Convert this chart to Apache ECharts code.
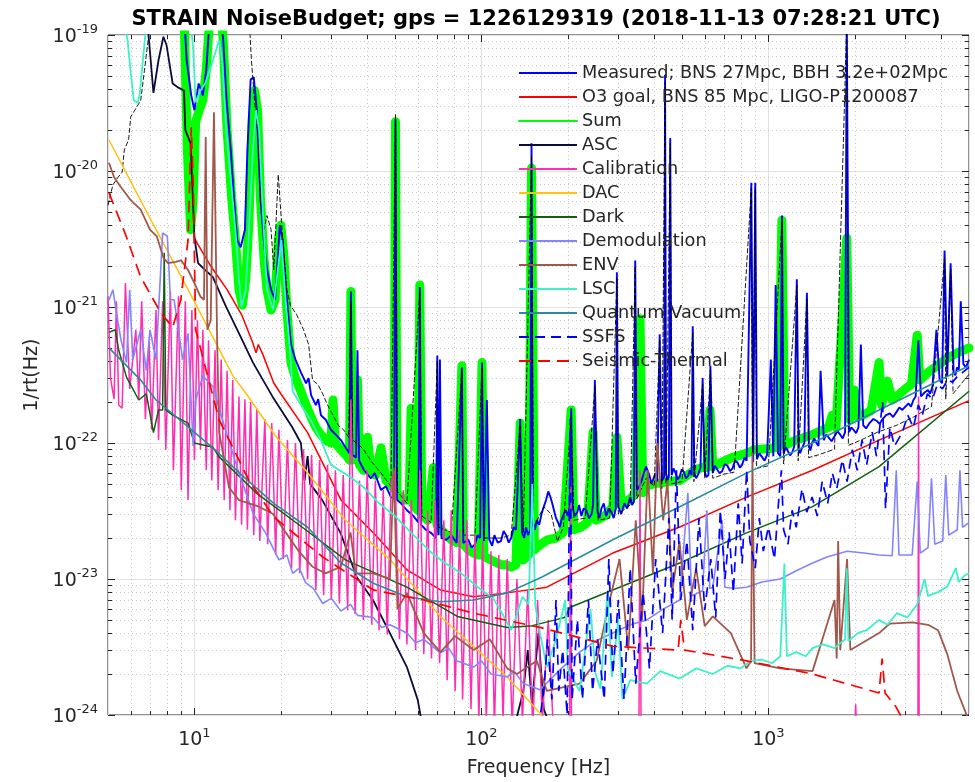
<!DOCTYPE html>
<html><head><meta charset="utf-8">
<script src="https://cdn.jsdelivr.net/npm/echarts@6/dist/echarts.min.js"></script>
<style>html,body{margin:0;padding:0;background:#fff}#c{width:975px;height:782px}#err{position:absolute;left:120px;top:420px;font:12px monospace;color:#c00;white-space:pre-wrap;width:800px;margin:0}</style>
</head><body><div id="c"></div><pre id="err"></pre>
<script>
window.onerror=function(m,s,l,c,e){document.getElementById('err').textContent += 'ERR: '+m+' @'+l+':'+c+'\n';};
const titleText = 'STRAIN NoiseBudget; gps = 1226129319 (2018-11-13 07:28:21 UTC)';
const legendNames = ['Measured; BNS 27Mpc, BBH 3.2e+02Mpc','O3 goal, BNS 85 Mpc, LIGO-P1200087','Sum','ASC','Calibration','DAC','Dark','Demodulation','ENV','LSC','Quantum Vacuum','SSFS','Seismic-Thermal'];
const xMajorTicks = [10,100,1000];
const xMinorTicks = [6,7,8,9,20,30,40,50,60,70,80,90,200,300,400,500,600,700,800,900,2000,3000,4000];
const yMajorTicks = [1e-24,1e-23,1e-22,1e-21,1e-20,1e-19];
const yMinorTicks = [2e-24,3e-24,4e-24,5e-24,6e-24,7e-24,8e-24,9e-24,2e-23,3e-23,4e-23,5e-23,6e-23,7e-23,8e-23,9e-23,2e-22,3e-22,4e-22,5e-22,6e-22,7e-22,8e-22,9e-22,2e-21,3e-21,4e-21,5e-21,6e-21,7e-21,8e-21,9e-21,2e-20,3e-20,4e-20,5e-20,6e-20,7e-20,8e-20,9e-20];

const measured = [[9.2,1.5e-19],[9.4,6.5e-20],[9.75,3.6e-20],[10.0,2.8e-20],[10.35,4.4e-20],[10.7,3.6e-20],[11.0,5.5e-20],[11.2,1.0e-19],[11.35,1.3e-19],[12.4,1.3e-19],[12.6,9.2e-20],[12.95,3.3e-20],[13.4,1.4e-20],[13.75,6.1e-21],[14.1,3.1e-21],[14.5,2.75e-21],[15.0,3.7e-21],[15.3,1.4e-20],[15.7,4.7e-20],[16.1,4.9e-20],[16.5,2.8e-20],[17.0,6.1e-21],[17.5,2.9e-21],[17.9,1.9e-21],[18.5,1.34e-21],[19.1,1.13e-21],[19.55,2.4e-21],[19.85,4.0e-21],[20.3,3.1e-21],[20.8,1.45e-21],[21.7,5.3e-22],[22.5,4.1e-22],[23.5,3.3e-22],[24.5,2.75e-22],[25.0,3.0e-22],[25.5,2.25e-22],[26.5,1.9e-22],[27.0,2.1e-22],[27.6,1.6e-22],[28.7,1.48e-22],[29.9,1.25e-22],[31.1,1.15e-22],[32.4,1.05e-22],[33.7,9.2e-23],[34.7,8.4e-23],[35.1,1.3e-21],[35.5,8.2e-23],[36.6,7.8e-23],[37.0,4.8e-22],[37.5,7.4e-23],[39.0,6.3e-23],[41.2,5.5e-23],[42.5,6.0e-23],[44.7,4.5e-23],[46.5,4.8e-23],[48.4,4.0e-23],[49.6,3.9e-23],[50.2,2.4e-20],[50.8,3.8e-23],[52.5,3.6e-23],[55.0,3.2e-23],[58.0,2.9e-23],[60.3,2.6e-23],[61.0,1.4e-21],[61.7,2.5e-23],[64.0,2.3e-23],[66.8,2.18e-23],[69.5,2.0e-23],[70.2,4.4e-22],[70.8,2.1e-23],[71.7,4.1e-22],[72.6,2.0e-23],[75.5,1.94e-23],[78.5,2.1e-23],[82.0,1.84e-23],[85.5,3.6e-22],[86.5,1.84e-23],[90.0,1.95e-23],[92.5,1.7e-23],[95.0,1.8e-23],[97.0,2.1e-23],[99.0,2.0e-23],[100.5,3.9e-22],[102.0,1.9e-23],[104.5,2.07e-22],[106.5,1.95e-23],[109.0,1.75e-23],[111.0,2.1e-23],[114.0,1.85e-23],[117.0,1.9e-23],[119.5,2.25e-23],[122.0,2.1e-23],[124.5,1.85e-23],[127.0,2.0e-23],[129.5,2.4e-23],[132.0,2.3e-23],[136.5,1.5e-22],[138.5,2.2e-23],[141.0,2.0e-23],[143.0,2.4e-23],[145.5,2.1e-23],[148.0,2.3e-23],[149.5,1.6e-20],[151.0,2.5e-23],[153.5,2.3e-23],[156.0,2.7e-23],[159.0,2.5e-23],[162.0,3.0e-23],[165.0,3.4e-23],[168.0,3.8e-23],[171.0,4.4e-23],[174.0,4.0e-23],[176.5,3.6e-23],[179.0,3.2e-23],[182.0,2.8e-23],[185.0,2.6e-23],[187.5,2.4e-23],[190.0,2.7e-23],[193.5,3.0e-23],[197.0,3.2e-23],[200.0,2.9e-23],[203.0,3.4e-23],[205.5,1.8e-22],[208.0,3.3e-23],[212.0,2.9e-23],[216.0,3.1e-23],[219.0,3.5e-23],[223.0,2.9e-23],[227.0,3.3e-23],[232.0,3.2e-23],[237.0,2.8e-23],[242.0,3.0e-23],[245.0,3.5e-23],[248.5,2.9e-22],[254.0,3.1e-23],[258.0,2.8e-23],[262.0,3.3e-23],[267.0,3.6e-23],[272.0,2.9e-23],[278.0,3.3e-23],[284.0,3.1e-23],[289.0,2.8e-23],[294.0,3.3e-23],[296.5,1.8e-21],[300.0,3.4e-23],[307.0,3.0e-23],[315.0,3.6e-23],[322.0,3.3e-23],[330.0,4.0e-23],[335.0,3.5e-23],[340.0,3.7e-23],[343.5,2.2e-21],[348.0,4.5e-23],[355.0,4.8e-23],[362.0,5.3e-23],[368.0,6.0e-23],[375.0,6.7e-23],[380.0,6.2e-23],[385.0,5.8e-23],[391.0,5.0e-23],[398.0,5.5e-23],[404.0,6.0e-23],[410.0,5.2e-23],[418.0,6.3e-22],[426.0,5.3e-23],[433.0,5.6e-23],[436.5,5.1e-20],[440.0,6.0e-23],[445.0,5.3e-23],[450.0,5.7e-23],[455.0,1.75e-20],[460.0,5.8e-23],[467.0,6.5e-23],[475.0,6.0e-23],[482.0,5.4e-23],[490.0,5.6e-23],[499.0,6.4e-23],[508.0,6.1e-23],[516.0,5.5e-23],[525.0,5.7e-23],[532.0,6.3e-23],[540.0,5.8e-23],[545.0,7.2e-22],[552.0,6.0e-23],[560.0,5.5e-23],[570.0,5.9e-23],[580.0,6.6e-23],[590.0,3.0e-22],[600.0,6.2e-23],[608.0,5.6e-23],[618.0,5.8e-23],[628.0,3.7e-22],[640.0,6.0e-23],[650.0,6.8e-23],[660.0,6.5e-23],[675.0,6.0e-23],[690.0,6.2e-23],[705.0,7.0e-23],[720.0,6.8e-23],[735.0,6.2e-23],[750.0,6.5e-23],[765.0,7.4e-23],[780.0,7.2e-23],[795.0,6.6e-23],[810.0,6.9e-23],[825.0,7.8e-23],[840.0,7.4e-23],[872.0,8.2e-21],[885.0,7.2e-23],[900.0,8.2e-21],[912.0,7.6e-23],[930.0,8.4e-23],[950.0,7.9e-23],[970.0,7.4e-23],[990.0,8.2e-23],[1020.0,4.1e-22],[1040.0,8.0e-23],[1060.0,1.45e-21],[1080.0,8.4e-23],[1100.0,8.0e-23],[1115.0,4.7e-21],[1130.0,8.4e-23],[1150.0,9.3e-23],[1170.0,8.7e-23],[1190.0,8.1e-23],[1210.0,8.5e-23],[1230.0,9.4e-23],[1256.0,1.6e-21],[1275.0,9.0e-23],[1290.0,8.4e-23],[1310.0,9.2e-23],[1335.0,1.0e-22],[1362.0,1.27e-21],[1385.0,9.4e-23],[1400.0,8.8e-23],[1420.0,1.0e-22],[1445.0,1.08e-22],[1470.0,1.0e-22],[1495.0,9.5e-23],[1520.0,3.4e-22],[1560.0,1.05e-22],[1590.0,1.15e-22],[1620.0,1.1e-22],[1660.0,1.03e-22],[1700.0,1.12e-22],[1740.0,1.22e-22],[1780.0,1.15e-22],[1815.0,1.08e-22],[1850.0,1.2e-22],[1875.0,1.5e-19],[1910.0,1.2e-22],[1945.0,1.3e-22],[1980.0,1.25e-22],[2020.0,1.18e-22],[2060.0,1.3e-22],[2100.0,5.3e-22],[2140.0,1.35e-22],[2190.0,1.28e-22],[2250.0,1.4e-22],[2320.0,1.5e-22],[2390.0,1.45e-22],[2440.0,1.38e-22],[2500.0,1.5e-22],[2570.0,1.6e-22],[2650.0,1.65e-22],[2720.0,1.55e-22],[2800.0,1.7e-22],[2860.0,1.82e-22],[2930.0,1.75e-22],[3000.0,1.85e-22],[3080.0,1.95e-22],[3140.0,1.85e-22],[3200.0,2.07e-22],[3260.0,2.2e-22],[3330.0,5.7e-22],[3400.0,2.2e-22],[3500.0,2.35e-22],[3600.0,2.45e-22],[3660.0,2.3e-22],[3730.0,2.6e-22],[3850.0,6.8e-22],[3950.0,2.9e-22],[4030.0,2.75e-22],[4110.0,2.6e-21],[4200.0,3.1e-22],[4315.0,2.1e-21],[4420.0,3.3e-22],[4480.0,3.15e-22],[4550.0,3.6e-22],[4610.0,3.45e-22],[4680.0,1.1e-21],[4780.0,3.8e-22],[4880.0,3.6e-22],[5000.0,4.1e-22]];

const o3goal = [[10.0,3.2e-21],[11.4,2.0e-21],[13.0,1.34e-21],[14.6,8.8e-22],[15.9,5.6e-22],[16.4,4.6e-22],[16.7,5.3e-22],[17.3,4.5e-22],[18.9,2.76e-22],[20.0,2.3e-22],[24.8,1.19e-22],[32.4,3.81e-23],[42.1,2.18e-23],[55.2,1.16e-23],[72.0,8.3e-24],[93.8,7.4e-24],[123.0,7.9e-24],[169.0,8.7e-24],[287.0,1.55e-23],[491.0,2.41e-23],[839.0,4.0e-23],[1425.0,6.3e-23],[2430.0,1.05e-22],[5000.0,2.05e-22]];

const sumNoise = [[9.2,1.5e-19],[9.45,1.43e-20],[9.7,3.7e-21],[9.9,6.1e-21],[10.1,2.3e-20],[10.4,2.8e-20],[10.7,3.3e-20],[11.0,5.5e-20],[11.2,1.0e-19],[11.35,1.3e-19],[12.4,1.3e-19],[12.6,9.2e-20],[13.0,2.0e-20],[13.5,6.1e-21],[13.9,3.1e-21],[14.3,1.34e-21],[14.7,1.03e-21],[15.1,1.6e-21],[15.5,4.35e-21],[15.9,2.4e-20],[16.2,3.9e-20],[16.6,2.8e-20],[17.0,6.1e-21],[17.5,2.2e-21],[17.9,1.34e-21],[18.5,9.5e-22],[19.1,1.13e-21],[19.6,3.1e-21],[20.0,4.0e-21],[20.5,2.4e-21],[21.0,9.5e-22],[21.7,3.9e-22],[22.5,3.0e-22],[23.5,2.4e-22],[24.5,1.9e-22],[25.5,1.55e-22],[26.5,1.3e-22],[27.6,1.15e-22],[28.7,1.05e-22],[29.9,1.0e-22],[30.4,2.07e-22],[31.0,1.0e-22],[32.4,8.9e-23],[33.7,8.2e-23],[34.7,7.5e-23],[35.1,1.3e-21],[35.5,7.5e-23],[37.0,2.9e-22],[37.6,6.9e-23],[38.8,6.3e-23],[40.1,1.1e-22],[41.2,6.3e-23],[42.7,5.8e-23],[44.7,9.2e-23],[46.5,5.3e-23],[48.4,4.9e-23],[49.6,4.6e-23],[50.2,2.3e-20],[50.8,4.3e-23],[53.5,3.8e-23],[56.0,3.8e-23],[56.9,1.8e-22],[58.0,3.5e-23],[60.0,3.2e-23],[61.0,1.45e-21],[62.0,3.0e-23],[65.0,2.7e-23],[68.0,6.6e-23],[70.0,2.5e-23],[72.4,2.3e-23],[75.5,2.1e-23],[78.5,1.94e-23],[82.0,1.85e-23],[85.5,3.7e-22],[86.5,1.8e-23],[90.0,1.64e-23],[94.0,1.55e-23],[97.5,1.5e-23],[100.5,3.9e-22],[102.0,1.47e-23],[108.0,1.38e-23],[112.0,1.33e-23],[117.0,1.27e-23],[122.0,1.27e-23],[127.0,1.22e-23],[132.0,1.27e-23],[136.5,1.4e-22],[140.0,1.38e-23],[146.0,1.5e-23],[149.5,1.05e-20],[153.0,1.64e-23],[160.0,1.78e-23],[170.0,1.94e-23],[182.0,2.0e-23],[193.0,2.2e-23],[205.5,1.75e-22],[210.0,2.3e-23],[222.0,2.4e-23],[234.0,2.6e-23],[245.0,1.2e-22],[251.0,2.7e-23],[269.0,2.9e-23],[287.0,3.4e-23],[296.5,1.1e-22],[307.0,3.5e-23],[326.0,3.8e-23],[344.0,4.2e-23],[357.0,8.2e-22],[365.0,4.3e-23],[375.0,4.8e-23],[397.0,5.0e-23],[425.0,5.1e-23],[450.0,5.2e-23],[491.0,5.3e-23],[523.0,5.8e-23],[552.0,6.3e-23],[588.0,6.6e-23],[610.0,6.6e-23],[626.0,1.75e-22],[640.0,6.7e-23],[687.0,7.2e-23],[745.0,7.8e-23],[839.0,8.4e-23],[893.0,8.9e-23],[1012.0,9.1e-23],[1080.0,9.3e-23],[1114.0,4.35e-21],[1140.0,9.6e-23],[1190.0,1.0e-22],[1250.0,1.05e-22],[1340.0,1.1e-22],[1422.0,1.15e-22],[1620.0,1.3e-22],[1668.0,1.6e-22],[1720.0,1.3e-22],[1875.0,3.2e-21],[1920.0,1.48e-22],[1990.0,2.45e-22],[2050.0,1.55e-22],[2130.0,1.6e-22],[2280.0,1.73e-22],[2430.0,3.9e-22],[2480.0,1.9e-22],[2600.0,2.85e-22],[2700.0,2.07e-22],[2830.0,2.25e-22],[3000.0,2.5e-22],[3150.0,2.7e-22],[3300.0,6.2e-22],[3370.0,2.9e-22],[3600.0,3.3e-22],[3880.0,3.7e-22],[4200.0,4.2e-22],[4550.0,4.6e-22],[5000.0,5.0e-22]];

const reference = [[5.0,5.6e-21],[5.2,7.9e-21],[5.4,8.9e-21],[5.6,9.8e-21],[5.7,1.43e-20],[5.9,1.7e-20],[6.0,2.5e-20],[6.2,2.8e-20],[6.5,3.3e-20],[6.7,5.5e-20],[6.9,9.2e-20],[7.0,1.4e-19],[15.5,1.4e-19],[15.8,6.5e-20],[16.2,3.3e-20],[16.7,1.7e-20],[17.0,6.1e-21],[17.5,3.7e-21],[17.9,4.7e-21],[18.5,3.7e-21],[18.9,1.87e-21],[19.6,9.4e-21],[20.2,3.7e-21],[21.0,1.34e-21],[21.6,1.03e-21],[22.7,8.8e-22],[24.0,6.8e-22],[25.0,5.3e-22],[25.8,2.9e-22],[26.9,2.7e-22],[28.0,2.3e-22],[29.1,1.9e-22],[30.4,1.6e-22],[31.7,1.35e-22],[33.1,1.25e-22],[34.5,1.1e-22],[35.1,1.1e-21],[35.6,1.05e-22],[37.0,9.9e-23],[38.8,9.0e-23],[41.2,7.4e-23],[44.7,6.0e-23],[48.4,4.8e-23],[50.2,2.6e-20],[51.0,4.4e-23],[55.0,3.6e-23],[61.0,1.3e-21],[62.0,2.9e-23],[66.8,2.6e-23],[70.2,4.0e-22],[71.0,2.4e-23],[78.5,2.2e-23],[85.5,3.4e-22],[86.5,2.1e-23],[95.0,2.1e-23],[100.5,3.6e-22],[102.0,2.0e-23],[117.0,2.0e-23],[127.0,2.1e-23],[136.5,1.35e-22],[140.0,2.2e-23],[149.5,1.3e-20],[152.0,2.4e-23],[165.0,3.4e-23],[175.0,3.0e-23],[184.0,1.9e-23],[193.0,2.4e-23],[205.5,1.6e-22],[210.0,2.7e-23],[230.0,2.8e-23],[248.5,2.6e-22],[255.0,2.7e-23],[280.0,2.8e-23],[296.5,1.65e-21],[300.0,3.0e-23],[330.0,3.5e-23],[343.5,2.0e-21],[348.0,3.9e-23],[375.0,5.5e-23],[400.0,4.8e-23],[418.0,5.8e-22],[425.0,4.6e-23],[436.5,4.5e-20],[440.0,5.0e-23],[455.0,1.6e-20],[460.0,5.0e-23],[500.0,5.2e-23],[545.0,6.5e-22],[550.0,5.2e-23],[590.0,2.7e-22],[600.0,5.5e-23],[628.0,3.4e-22],[640.0,5.5e-23],[700.0,5.9e-23],[760.0,6.1e-23],[872.0,7.5e-21],[880.0,6.3e-23],[900.0,7.5e-21],[910.0,6.5e-23],[1000.0,6.8e-23],[1115.0,4.3e-21],[1130.0,7.0e-23],[1256.0,1.45e-21],[1270.0,7.4e-23],[1362.0,1.15e-21],[1380.0,7.8e-23],[1500.0,8.2e-23],[1700.0,9.0e-23],[1875.0,1.2e-19],[1900.0,9.6e-23],[2100.0,1.05e-22],[2400.0,1.2e-22],[2800.0,1.35e-22],[3200.0,1.55e-22],[3700.0,1.85e-22],[4110.0,2.3e-21],[4150.0,2.1e-22],[4315.0,1.9e-21],[4400.0,2.3e-22],[5000.0,3.2e-22]];

const asc = [[6.85,1.3e-19],[7.2,3.75e-20],[7.5,6.55e-20],[7.8,9.7e-20],[8.0,8.4e-20],[8.4,4.4e-20],[8.8,4.1e-20],[9.2,3.9e-20],[9.3,2.0e-20],[9.7,1.6e-20],[10.0,3.3e-21],[10.3,2.1e-21],[10.9,1.87e-21],[11.6,1.66e-21],[12.9,1.0e-21],[14.4,6.2e-22],[16.0,3.9e-22],[18.7,2.2e-22],[21.9,1.31e-22],[23.5,1.0e-22],[24.2,5.3e-23],[24.8,8.0e-23],[25.3,5.0e-23],[27.9,3.8e-23],[32.3,2.18e-23],[36.8,1.03e-23],[41.9,7.0e-24],[48.0,4.0e-24],[55.0,2.25e-24],[60.0,1.29e-24],[62.5,8e-25],[130.0,8e-25],[140.0,1.5e-24],[145.0,3.0e-24],[150.0,1.2e-24],[158.0,4.0e-24],[165.0,1.1e-24],[175.0,8e-25]];

const calibration = [[5.0,1.2e-21],[5.1,3.0e-22],[5.25,2.1e-22],[5.35,1.1e-21],[5.45,1.9e-22],[5.6,1.8e-22],[5.75,1.5e-21],[5.95,2.5e-22],[6.1,4.1e-22],[6.25,6.8e-22],[6.4,2.1e-22],[6.55,1.1e-21],[6.75,1.5e-22],[6.95,5.7e-22],[7.1,1.25e-22],[7.35,9.5e-22],[7.5,1.05e-22],[7.75,1.1e-21],[7.95,8.9e-23],[8.25,1.3e-21],[8.45,6.3e-23],[8.8,1.2e-21],[9.0,4.5e-23],[9.3,1.1e-21],[9.5,3.8e-23],[9.8,9.5e-22],[10.0,7.5e-23],[10.25,8.0e-22],[10.5,8.9e-23],[10.7,6.8e-22],[11.0,6.3e-23],[11.2,5.7e-22],[11.5,5.3e-23],[11.8,4.8e-22],[12.1,4.5e-23],[12.4,4.1e-22],[12.7,3.8e-23],[13.0,3.4e-22],[13.3,3.2e-23],[13.6,2.9e-22],[13.9,2.7e-23],[14.3,2.2e-22],[14.6,2.5e-23],[15.0,2.1e-22],[15.3,2.3e-23],[15.7,2.0e-22],[16.1,2.1e-23],[16.5,1.8e-22],[16.9,1.9e-23],[17.6,1.5e-22],[18.0,1.8e-23],[18.6,1.4e-22],[19.2,1.5e-23],[19.7,1.25e-22],[20.4,1.4e-23],[21.1,1.05e-22],[21.8,1.2e-23],[22.5,1.0e-22],[23.3,1.1e-23],[24.0,9.0e-23],[24.8,1.0e-23],[25.6,8.2e-23],[26.5,8.3e-24],[27.3,7.5e-23],[28.2,7.6e-24],[29.1,6.9e-23],[30.0,7.0e-24],[31.0,6.3e-23],[32.0,6.6e-24],[33.0,5.8e-23],[34.2,5.9e-24],[35.1,2.1e-22],[36.3,5.5e-24],[37.6,5.3e-23],[38.8,5.0e-24],[40.0,6.3e-23],[41.5,4.6e-24],[42.7,5.3e-23],[44.0,4.2e-24],[45.5,4.5e-23],[47.0,3.9e-24],[48.5,5.3e-23],[50.0,6.3e-23],[51.8,3.6e-24],[53.5,4.5e-23],[55.0,3.3e-24],[57.0,3.8e-23],[59.0,3.0e-24],[61.0,6.3e-23],[63.0,2.8e-24],[65.0,3.2e-23],[67.0,2.6e-24],[69.0,3.8e-23],[71.5,2.4e-24],[74.0,2.7e-23],[76.0,1.8e-24],[78.5,3.2e-23],[81.0,1.5e-24],[84.0,2.3e-23],[86.0,1.3e-24],[89.0,2.7e-23],[92.0,1.1e-24],[95.0,2.1e-23],[98.0,9e-25],[101.0,1.9e-23],[104.0,9e-25],[108.0,1.6e-23],[111.0,8e-25],[115.0,1.5e-23],[119.0,9e-25],[123.0,1.4e-23],[128.0,8e-25],[133.0,1.0e-23],[139.0,9e-25],[145.0,8.3e-24],[151.0,8e-25],[157.0,7.0e-24],[163.0,9e-25],[171.0,5.0e-24],[178.0,8e-25],[203.0,8e-25],[204.5,5.3e-23],[206.0,8e-25],[354.0,8e-25],[357.0,6.3e-23],[360.0,8e-25],[2000.0,8e-25],[2014.0,1.2e-24],[2028.0,8e-25],[3320.0,8e-25],[3336.0,2.2e-22],[3352.0,8e-25],[5000.0,8e-25]];

const dac = [[5.04,1.69e-20],[7.0,4.5e-21],[9.6,1.29e-21],[13.7,3.05e-22],[15.1,2.33e-22],[19.2,1.12e-22],[24.4,6.3e-23],[33.6,2.7e-23],[48.2,1.38e-23],[72.0,5.3e-24],[123.0,1.9e-24],[160.0,1.03e-24],[175.0,8e-25]];

const dark = [[5.04,6.5e-22],[5.3,6.8e-22],[5.45,4.8e-22],[5.8,3.05e-22],[6.4,2.07e-22],[6.8,2.3e-22],[7.2,1.19e-22],[7.5,1.75e-22],[7.75,1.75e-22],[7.85,2.5e-21],[7.95,1.75e-22],[8.4,1.6e-22],[9.5,1.4e-22],[10.0,1.0e-22],[11.6,9.3e-23],[12.2,7.9e-23],[16.4,4.3e-23],[24.4,2.3e-23],[33.6,1.38e-23],[55.0,8.7e-24],[82.5,5.3e-24],[123.0,4.4e-24],[148.0,4.5e-24],[181.0,5.0e-24],[195.0,5.2e-24],[204.0,6.2e-24],[287.0,8.3e-24],[491.0,1.31e-23],[839.0,2.18e-23],[1425.0,3.4e-23],[2430.0,6.7e-23],[5000.0,2.4e-22]];

const demodulation = [[5.04,1.12e-21],[5.2,1.34e-21],[5.35,9.1e-22],[5.55,5.7e-22],[5.8,3.9e-22],[5.95,1.34e-21],[6.1,4.1e-22],[6.5,6.8e-22],[6.8,3.4e-22],[7.0,6.8e-22],[7.35,4.1e-22],[7.75,3.5e-21],[8.05,3.3e-21],[8.25,1.13e-21],[8.5,1.13e-21],[8.7,8.0e-22],[9.1,4.1e-22],[9.5,6.4e-22],[9.9,9.5e-23],[10.1,2.07e-22],[10.7,3.1e-22],[11.6,2.6e-22],[12.9,1.2e-22],[14.3,6.0e-23],[16.0,3.05e-23],[17.7,2.18e-23],[19.7,1.38e-23],[21.0,1.5e-23],[22.0,1.1e-23],[23.2,1.2e-23],[24.4,9.4e-24],[26.0,8.5e-24],[28.0,6.6e-24],[30.0,7.2e-24],[32.4,5.8e-24],[35.0,6.5e-24],[37.0,5.4e-24],[42.0,5.2e-24],[45.0,4.4e-24],[48.0,4.6e-24],[55.0,4.0e-24],[59.0,3.4e-24],[63.0,3.6e-24],[72.0,2.86e-24],[77.0,3.1e-24],[82.0,2.5e-24],[94.0,2.25e-24],[100.0,2.5e-24],[108.0,2.0e-24],[123.0,1.9e-24],[130.0,2.1e-24],[140.0,1.7e-24],[160.0,1.53e-24],[190.0,2.2e-24],[220.0,2.9e-24],[250.0,3.5e-24],[287.0,4.0e-24],[330.0,4.6e-24],[377.0,5.0e-24],[430.0,6.0e-24],[491.0,7.0e-24],[524.0,4.3e-23],[540.0,7.5e-24],[590.0,8.2e-24],[610.0,3.2e-23],[625.0,8.5e-24],[640.0,8.7e-24],[690.0,2.7e-23],[705.0,8.7e-24],[760.0,8.5e-24],[839.0,8.7e-24],[950.0,9.5e-24],[1100.0,1.0e-23],[1250.0,1.15e-23],[1425.0,1.31e-23],[1600.0,1.45e-23],[1880.0,1.6e-23],[2150.0,1.55e-23],[2430.0,1.5e-23],[2700.0,1.48e-23],[2790.0,6.3e-23],[2850.0,1.5e-23],[3170.0,1.5e-23],[3300.0,5.2e-23],[3380.0,1.55e-23],[3600.0,1.7e-23],[3700.0,5.5e-23],[3800.0,1.8e-23],[4050.0,1.9e-23],[4150.0,5.8e-23],[4250.0,2.1e-23],[4550.0,2.3e-23],[4650.0,6.3e-23],[4750.0,2.4e-23],[5000.0,2.6e-23]];

const env = [[5.04,1.15e-20],[5.25,9.0e-21],[5.55,7.6e-21],[6.0,6.1e-21],[6.5,5.2e-21],[7.0,3.7e-21],[7.4,3.3e-21],[7.8,2.3e-21],[8.1,2.1e-21],[8.6,2.15e-21],[9.0,2.2e-21],[9.5,1.87e-21],[10.0,1.5e-21],[10.5,1.19e-21],[10.8,1.13e-21],[10.95,1.78e-20],[11.1,6.8e-22],[11.4,8.0e-22],[11.7,2.7e-20],[12.0,5.7e-22],[12.2,1.2e-22],[13.2,4.7e-23],[14.3,3.8e-23],[15.5,3.6e-23],[16.8,3.4e-23],[18.8,3.0e-23],[20.8,2.2e-23],[23.1,1.6e-23],[25.8,1.23e-23],[28.6,1.1e-23],[32.4,1.23e-23],[35.0,2.2e-23],[36.5,1.1e-23],[42.0,1.1e-23],[48.0,1.0e-23],[49.5,6.6e-23],[51.0,6.0e-24],[55.0,7.9e-24],[63.0,4.0e-24],[72.0,2.9e-24],[81.0,3.8e-24],[94.0,3.0e-24],[107.0,3.6e-24],[123.0,2.2e-24],[133.0,2.0e-24],[156.0,2.5e-24],[169.0,1.5e-24],[220.0,1.7e-24],[252.0,2.5e-24],[280.0,7.0e-24],[303.0,1.4e-23],[325.0,3.0e-24],[345.0,2.7e-23],[363.0,5.0e-24],[380.0,6.3e-23],[396.0,1.1e-23],[410.0,1.0e-22],[430.0,2.7e-23],[445.0,5.3e-23],[462.0,8.0e-24],[490.0,1.9e-23],[520.0,5.0e-24],[560.0,1.2e-23],[600.0,4.5e-24],[640.0,5.3e-24],[740.0,4.0e-24],[839.0,2.2e-24],[870.0,2.5e-24],[880.0,8.5e-23],[895.0,2.4e-24],[1100.0,2.2e-24],[1425.0,2.1e-24],[1700.0,7.0e-24],[1730.0,2.6e-24],[1750.0,1.9e-23],[1780.0,3.0e-24],[1880.0,1.4e-23],[1930.0,3.0e-24],[2430.0,4.0e-24],[2650.0,4.7e-24],[3170.0,4.8e-24],[3600.0,4.6e-24],[3900.0,4.2e-24],[4200.0,2.8e-24],[4550.0,1.5e-24],[5000.0,9e-25]];

const lsc = [[5.7,1.2e-19],[5.85,9.2e-20],[6.0,5.3e-20],[6.15,3.3e-20],[6.35,3.16e-20],[6.45,3.7e-20],[6.6,6.2e-20],[6.8,1.2e-19],[8.0,2e-19],[9.5,2e-19],[9.9,8e-20],[10.1,3.2e-20],[10.5,3.9e-20],[10.9,4.4e-20],[11.6,6.5e-20],[12.2,9.2e-20],[12.5,6.5e-20],[12.9,2.0e-20],[13.4,8.6e-21],[13.9,3.7e-21],[14.3,1.58e-21],[14.6,1.0e-21],[15.1,1.34e-21],[15.5,3.7e-21],[16.0,1.43e-20],[16.4,2.8e-20],[16.8,2.0e-20],[17.3,5.2e-21],[17.9,1.34e-21],[18.8,9.5e-22],[19.7,2.2e-21],[20.1,3.1e-21],[20.8,1.1e-21],[21.5,5.0e-22],[22.0,2.4e-22],[23.5,1.9e-22],[25.4,1.48e-22],[27.6,1.05e-22],[29.9,6.9e-23],[35.0,5.6e-23],[39.0,4.7e-23],[44.0,3.6e-23],[50.0,2.9e-23],[58.0,2.1e-23],[67.0,1.56e-23],[75.0,1.3e-23],[85.0,1.1e-23],[100.0,8.3e-24],[110.0,7.2e-24],[118.0,5.6e-24],[127.0,4.2e-24],[133.0,5.5e-24],[139.0,7.4e-24],[146.0,6.5e-24],[150.5,5.0e-23],[154.0,6.5e-24],[160.0,4.0e-24],[169.0,2.25e-24],[182.0,3.6e-24],[196.0,7.0e-24],[200.0,2.2e-24],[210.0,1.8e-24],[220.0,1.5e-24],[240.0,6.0e-24],[250.0,2.0e-24],[260.0,1.55e-24],[275.0,8.0e-24],[285.0,1.9e-24],[300.0,5.0e-24],[310.0,1.3e-24],[330.0,1.8e-24],[377.0,1.7e-24],[420.0,2.1e-24],[491.0,1.85e-24],[560.0,2.2e-24],[640.0,2.0e-24],[720.0,2.3e-24],[800.0,2.2e-24],[870.0,2.5e-24],[950.0,2.55e-24],[1030.0,2.4e-24],[1100.0,2.7e-24],[1137.0,1.3e-23],[1160.0,2.7e-24],[1250.0,2.9e-24],[1350.0,2.7e-24],[1425.0,3.1e-24],[1550.0,3.3e-24],[1700.0,3.1e-24],[1850.0,3.6e-24],[1875.0,1.2e-23],[1900.0,3.5e-24],[2050.0,4.0e-24],[2200.0,4.2e-24],[2430.0,5.0e-24],[2600.0,4.6e-24],[2800.0,5.6e-24],[3050.0,5.2e-24],[3300.0,6.5e-24],[3500.0,1.0e-23],[3600.0,7.5e-24],[3900.0,8.0e-24],[4200.0,8.8e-24],[4500.0,1.2e-23],[4600.0,9.5e-24],[4800.0,1.05e-23],[5000.0,1.1e-23]];

const quantumVacuum = [[5.04,5.0e-22],[6.5,2.9e-22],[7.35,2.07e-22],[8.5,1.6e-22],[9.6,1.29e-22],[11.8,8.9e-23],[14.5,5.9e-23],[18.9,3.6e-23],[24.8,2.4e-23],[32.4,1.31e-23],[42.0,9.3e-24],[55.0,7.4e-24],[72.0,6.8e-24],[94.0,7.0e-24],[123.0,7.9e-24],[162.0,1.03e-23],[287.0,1.94e-23],[491.0,3.4e-23],[839.0,6.0e-23],[1425.0,1.0e-22],[2430.0,1.75e-22],[5000.0,3.7e-22]];

const ssfs = [[158,8e-25],[165,1.5e-24],[170,3.6e-24],[176,1.3e-24],[182,7e-24],[186,1.5e-24],[192,3e-24],[199,1e-24],[204,1.5e-22],[207,1.3e-24],[216,5e-24],[225,1.3e-24],[236,7e-24],[244,1.5e-24],[254,3.6e-24],[268,1.3e-24],[278,1.4e-23],[287,2e-24],[300,7e-24],[314,1.3e-24],[330,1.2e-23],[345,1.7e-24],[366,8e-24],[385,2.2e-24],[405,1.4e-23],[428,4e-24],[450,2.8e-23],[462,5e-24],[478,6.3e-23],[495,7e-24],[520,1.9e-23],[545,4.2e-24],[573,2.8e-23],[600,5.9e-24],[630,1.4e-23],[655,5.2e-24],[680,3.2e-23],[706,1e-23],[730,2.2e-23],[755,8e-24],[785,3.6e-23],[810,1.3e-23],[840,6.3e-23],[862,1.9e-23],[900,1.2e-23],[930,2.8e-23],[960,1.6e-23],[1000,2.4e-23],[1050,1.4e-23],[1090,4.2e-23],[1110,6.3e-23],[1130,2.3e-23],[1170,1.8e-23],[1210,3.2e-23],[1250,2.4e-23],[1310,4.6e-23],[1360,3.1e-23],[1420,4e-23],[1480,2.9e-23],[1540,5.2e-23],[1610,3.6e-23],[1670,6e-23],[1730,4.6e-23],[1810,7.5e-23],[1880,5.2e-23],[1960,8.9e-23],[2040,6.3e-23],[2120,1.05e-22],[2200,6.9e-23],[2300,1.2e-22],[2380,8e-23],[2500,2e-22],[2560,3.3e-23],[2650,1.3e-22],[2750,9.5e-23],[2930,1.2e-22],[3060,1.6e-22],[3200,1.3e-22],[3330,1.9e-22],[3440,1.6e-22],[3580,2.3e-22],[3730,2.1e-22],[3880,2.7e-22],[4040,2.5e-22],[4210,2.9e-22],[4380,2.8e-22],[4560,3.1e-22],[4750,3.3e-22],[5000,3.6e-22]];

const seismicThermal = [[5.04,6.9e-21],[5.76,3.4e-21],[6.5,1.66e-21],[7.65,9.0e-22],[8.4,7.1e-22],[8.96,1.12e-21],[9.5,3.1e-21],[9.75,2.1e-20],[9.9,8.6e-21],[10.1,6.8e-22],[11.0,3.4e-22],[12.2,1.48e-22],[15.5,5.3e-23],[18.9,2.86e-23],[28.0,1.45e-23],[42.0,8.3e-24],[63.0,7.0e-24],[94.0,5.6e-24],[160.0,4.4e-24],[287.0,3.2e-24],[485.0,3.0e-24],[495.0,5.0e-24],[510.0,3.0e-24],[839.0,2.5e-24],[1425.0,2.0e-24],[2430.0,1.45e-24],[2490.0,2.6e-24],[2550.0,1.45e-24],[2780.0,1.15e-24],[2960.0,9e-25]];

const FONT = 'DejaVu Sans';
const TXT = '#262626';

function isDecade(v){ const e = Math.log10(v); return Math.abs(e - Math.round(e)) < 1e-4; }
function powLabel(v){ if(!isDecade(v)) return ''; return '{b|10}{s|' + Math.round(Math.log10(v)) + '}'; }
const richLbl = {
  b:{fontSize:19,fontFamily:FONT,color:TXT,verticalAlign:'bottom'},
  s:{fontSize:13,fontFamily:FONT,color:TXT,verticalAlign:'bottom',padding:[0,0,10,0]}
};

const decorData = [].concat(
  xMinorTicks.map(v=>[v,1e-22,0]),
  yMinorTicks.map(v=>[100,v,1]),
  xMajorTicks.map(v=>[v,1e-22,2]),
  yMajorTicks.map(v=>[100,v,3])
);

function lineSeries(name, data, color, width, extra){
  return Object.assign({
    name:name, type:'line', data:data, symbol:'none', showSymbol:false,
    lineStyle:{color:color,width:width}, itemStyle:{color:color},
    emphasis:{disabled:true}, silent:true, animation:false, z:3
  }, extra||{});
}

const chart = echarts.init(document.getElementById('c'), null, {renderer:'canvas'});
chart.setOption({
  animation:false,
  backgroundColor:'#ffffff',
  title:{text:titleText,left:531,textAlign:'center',top:4,
    textStyle:{fontFamily:FONT,fontWeight:'bold',fontSize:21,color:'#000'}},
  grid:{left:108,right:6,top:35,bottom:67,outerBoundsMode:'none',containLabel:false,show:true,borderColor:TXT,borderWidth:1,backgroundColor:'transparent'},
  legend:{orient:'vertical',left:518,top:64,padding:0,itemWidth:58,itemHeight:14,itemGap:6,
    selectedMode:false,data:legendNames,itemStyle:{opacity:0,borderWidth:0},
    textStyle:{fontFamily:FONT,fontSize:17.7,color:TXT}},
  xAxis:{type:'log',logBase:10,min:5,max:5000,
    name:'Frequency [Hz]',nameLocation:'middle',nameGap:44,nameMoveOverlap:false,
    nameTextStyle:{fontFamily:FONT,fontSize:19,color:TXT},
    axisLine:{show:false},axisTick:{show:false},
    axisLabel:{formatter:powLabel,rich:richLbl,margin:12,showMinLabel:false,showMaxLabel:false},
    splitLine:{show:true,lineStyle:{color:'#e2e2e2',width:1}}},
  yAxis:{type:'log',logBase:10,min:9.99e-25,max:1e-19,
    name:'1/rt(Hz)',nameLocation:'middle',nameGap:66,nameMoveOverlap:false,
    nameTextStyle:{fontFamily:FONT,fontSize:19,color:TXT},
    axisLine:{show:false},axisTick:{show:false},
    axisLabel:{formatter:powLabel,rich:richLbl,margin:10,showMinLabel:true,showMaxLabel:true,hideOverlap:false},
    splitLine:{show:true,lineStyle:{color:'#e2e2e2',width:1}}},
  series:[
    {type:'custom',name:'decor',data:decorData,silent:true,z:1,clip:false,
     renderItem:function(params,api){
       const cs = params.coordSys;
       const f = api.value(2);
       const kids = [];
       const tickStyle = {stroke:TXT,lineWidth:1};
       if(f===0||f===2){
         const x = Math.round(api.coord([api.value(0),1e-22])[0])+0.5;
         const L = f===0?4:7;
         if(f===0) kids.push({type:'line',shape:{x1:x,y1:cs.y,x2:x,y2:cs.y+cs.height},style:{stroke:'#c9c9c9',lineWidth:1,lineDash:[1,3]}});
         kids.push({type:'line',shape:{x1:x,y1:cs.y+cs.height,x2:x,y2:cs.y+cs.height-L},style:tickStyle});
         kids.push({type:'line',shape:{x1:x,y1:cs.y,x2:x,y2:cs.y+L},style:tickStyle});
       } else {
         const y = Math.round(api.coord([100,api.value(1)])[1])+0.5;
         const L = f===1?4:7;
         if(f===1) kids.push({type:'line',shape:{x1:cs.x,y1:y,x2:cs.x+cs.width,y2:y},style:{stroke:'#c9c9c9',lineWidth:1,lineDash:[1,3]}});
         kids.push({type:'line',shape:{x1:cs.x,y1:y,x2:cs.x+L,y2:y},style:tickStyle});
         kids.push({type:'line',shape:{x1:cs.x+cs.width,y1:y,x2:cs.x+cs.width-L,y2:y},style:tickStyle});
       }
       return {type:'group',children:kids};
     }},
    lineSeries('Sum', sumNoise, '#00ff00', 9, {lineStyle:{color:'#00ff00',width:9,cap:'round',join:'round'}}),
    lineSeries(legendNames[0], measured, '#0000ff', 1.9),
    lineSeries('reference', reference, '#000000', 0.9, {lineStyle:{color:'#000000',width:0.9,type:[5,2]}}),
    lineSeries(legendNames[1], o3goal, '#ff0000', 1.5),
    lineSeries('ASC', asc, '#0c0c3c', 1.8),
    lineSeries('Calibration', calibration, '#ff2eb0', 1.5),
    lineSeries('DAC', dac, '#ffc20e', 1.5),
    lineSeries('Dark', dark, '#0f600f', 1.5),
    lineSeries('Demodulation', demodulation, '#8484ff', 1.6),
    lineSeries('ENV', env, '#a0584c', 1.8),
    lineSeries('LSC', lsc, '#3cf0c8', 1.8),
    lineSeries('Quantum Vacuum', quantumVacuum, '#2a8c9e', 1.6),
    lineSeries('SSFS', ssfs, '#0000ff', 1.7, {lineStyle:{color:'#0000ff',width:1.7,type:[10,6]}}),
    lineSeries('Seismic-Thermal', seismicThermal, '#ff0000', 1.7, {lineStyle:{color:'#ff0000',width:1.7,type:[12,7]}})
  ]
});
</script>
</body></html>
